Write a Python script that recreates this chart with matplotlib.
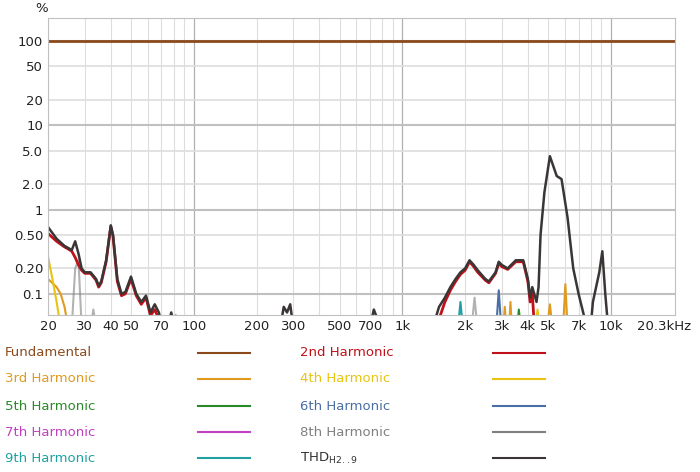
import matplotlib
matplotlib.use("Agg")
import matplotlib.pyplot as plt
from matplotlib.lines import Line2D
import matplotlib.transforms as mtransforms
import numpy as np

thd_f = [20,22,24,25,26,27,28,29,30,32,34,35,36,38,40,41,43,45,47,50,53,56,59,62,65,68,70,75,78,80,82,85,
         260,270,280,290,300, 700,730,760,790,
         1400,1500,1600,1700,1800,1900,2000,2100,2200,2300,2500,2600,2800,2900,3000,3200,3500,3800,4000,4100,4200,4400,4500,4600,4800,5100,5500,5800,6200,6600,7000,7500,8000,8200,8800,9100,9400,9700]
thd_v = [0.62,0.45,0.37,0.35,0.33,0.42,0.3,0.2,0.18,0.18,0.15,0.125,0.14,0.25,0.65,0.5,0.15,0.1,0.105,0.16,0.1,0.08,0.095,0.06,0.075,0.06,0.045,0.04,0.06,0.045,0.055,0.04,
         0.04,0.07,0.06,0.075,0.04, 0.04,0.065,0.05,0.04,
         0.04,0.07,0.09,0.12,0.15,0.18,0.2,0.25,0.22,0.19,0.15,0.14,0.18,0.24,0.22,0.2,0.25,0.25,0.15,0.09,0.12,0.08,0.12,0.5,1.6,4.3,2.5,2.3,0.8,0.2,0.1,0.05,0.04,0.08,0.18,0.32,0.1,0.04]
h2_f = [20,22,24,25,26,27,28,29,30,32,34,35,36,38,40,41,43,45,47,50,53,56,59,62,65,68,70,
        1500,1600,1700,1800,1900,2000,2100,2200,2300,2500,2600,2800,2900,3000,3200,3500,3800,4000,4100,4200,4300]
h2_v = [0.52,0.42,0.36,0.34,0.32,0.27,0.22,0.19,0.175,0.175,0.145,0.12,0.135,0.24,0.63,0.48,0.14,0.095,0.1,0.15,0.095,0.075,0.09,0.055,0.065,0.05,0.04,
        0.05,0.08,0.11,0.14,0.17,0.19,0.24,0.21,0.18,0.145,0.135,0.175,0.23,0.21,0.195,0.24,0.24,0.14,0.08,0.1,0.04]
h3_f = [20,22,23,24,25, 3050,3100,3150,3250,3300,3350, 4950,5100,5250, 5900,6050,6200]
h3_v = [0.15,0.12,0.1,0.07,0.04, 0.04,0.07,0.04,0.04,0.08,0.04, 0.04,0.075,0.04, 0.04,0.13,0.04]
h4_f = [20,21,22,23, 4350,4450,4550]
h4_v = [0.28,0.15,0.08,0.04, 0.04,0.065,0.04]
h5_f = [3550,3620,3700]
h5_v = [0.04,0.065,0.04]
h6_f = [2820,2900,2980]
h6_v = [0.04,0.11,0.04]
h8_f = [26,27,28,29, 32,33,34, 2150,2220,2290]
h8_v = [0.04,0.2,0.25,0.04, 0.04,0.065,0.04, 0.04,0.09,0.04]
h9_f = [1850,1900,1950]
h9_v = [0.04,0.08,0.04]
fund_f = [20, 20300]
fund_v = [100, 100]

xticks = [20,30,40,50,70,100,200,300,500,700,1000,2000,3000,4000,5000,7000,10000,20300]
xlabels = ["20","30","40","50","70","100","200","300","500","700","1k","2k","3k","4k","5k","7k","10k","20.3kHz"]
yticks = [0.1,0.2,0.5,1,2,5,10,20,50,100]
ylabels = ["0.1","0.20","0.50","1","2.0","5.0","10","20","50","100"]

fig = plt.figure(figsize=(7,4.72), dpi=100)
ax = fig.add_axes([48/700, 1-315/472, 627/700, 297/472])
ax.set_xscale("log"); ax.set_yscale("log")
ax.set_xlim(20, 20300); ax.set_ylim(0.056, 188)

for d in [20,30,40,50,60,70,80,90,200,300,400,500,600,700,800,900,2000,3000,4000,5000,6000,7000,8000,9000]:
    ax.axvline(d, color="#dddddd", lw=0.8, zorder=0)
for d in [100,1000,10000]:
    ax.axvline(d, color="#b0b0b0", lw=0.9, zorder=0)
for v in [0.2,0.5,2,5,20,50]:
    ax.axhline(v, color="#dddddd", lw=1.2, zorder=0)
for v in [0.1,1,10,100]:
    ax.axhline(v, color="#c0c0c0", lw=1.5, zorder=0)

ax.set_xticks(xticks); ax.set_xticklabels(xlabels)
ax.set_yticks(yticks); ax.set_yticklabels(ylabels)
ax.minorticks_off()
ax.tick_params(length=0, labelsize=9.5, colors="#222222")
last = ax.get_xticklabels()[-1]
last.set_horizontalalignment("right")
last.set_transform(last.get_transform() + mtransforms.ScaledTranslation(16/100, 0, fig.dpi_scale_trans))
for s in ax.spines.values():
    s.set_color("#c0c0c0")

colors = {"fund":"#8b4a1c","h2":"#c0101a","h3":"#e09a20","h4":"#e8c410","h5":"#2a8a2a",
          "h6":"#4a6fa5","h7":"#c040c0","h8":"#808080","h9":"#20a0a0","thd":"#3a3636"}
ax.plot(h3_f,h3_v,color=colors["h3"],lw=1.5)
ax.plot(h4_f,h4_v,color=colors["h4"],lw=1.5)
ax.plot(h5_f,h5_v,color=colors["h5"],lw=1.5)
ax.plot(h6_f,h6_v,color=colors["h6"],lw=1.5)
ax.plot(h8_f,h8_v,color=colors["h8"],lw=1.5,alpha=0.6)
ax.plot(h9_f,h9_v,color=colors["h9"],lw=1.5)
ax.plot(h2_f,h2_v,color=colors["h2"],lw=2)
ax.plot(thd_f,thd_v,color=colors["thd"],lw=1.8)
ax.plot(fund_f,fund_v,color=colors["fund"],lw=2)
fig.text(35/700, 1-9/472, "%", fontsize=9.5, va="center", color="#222222")

items = [("Fundamental","fund"),("2nd Harmonic","h2"),("3rd Harmonic","h3"),("4th Harmonic","h4"),
         ("5th Harmonic","h5"),("6th Harmonic","h6"),("7th Harmonic","h7"),("8th Harmonic","h8"),
         ("9th Harmonic","h9"),("THD$_{\\mathregular{H2..9}}$","thd")]
rows = [353,379,406,432,458]
for i,(lab,k) in enumerate(items):
    r = rows[i//2]; c = i%2
    tx = 5 if c==0 else 300
    lx = 198 if c==0 else 493
    y = 1-r/472
    fig.text(tx/700, y, lab, fontsize=9.5, va="center", color=colors[k] if k!="thd" else "#333333")
    fig.add_artist(Line2D([lx/700,(lx+52)/700],[y,y],color=colors[k],lw=1.5))
fig.savefig("out.png", dpi=100)
